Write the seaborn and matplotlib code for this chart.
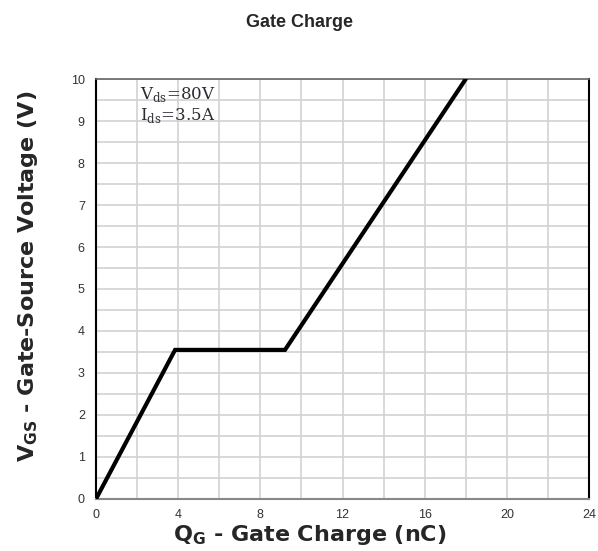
import matplotlib
matplotlib.use("Agg")
import matplotlib.pyplot as plt
import seaborn as sns
import pandas as pd
import numpy as np

# Data
qg_nc = [0.0, 3.85, 9.2, 18.0]
vgs_v = [0.0, 3.55, 3.55, 10.0]
x_ticks = [0, 4, 8, 12, 16, 20, 24]
y_ticks = [0, 1, 2, 3, 4, 5, 6, 7, 8, 9, 10]

sns.set_theme(style="white")
plt.rcParams['font.family'] = ['Liberation Sans', 'DejaVu Sans']

df = pd.DataFrame({"QG": qg_nc, "VGS": vgs_v})

fig = plt.figure(figsize=(5.98, 5.51), dpi=100)
ax = fig.add_axes([0.1605, 0.0944, 0.8245, 0.7622])

sns.lineplot(data=df, x="QG", y="VGS", ax=ax, color="black", linewidth=3.0,
             solid_joinstyle="miter", zorder=3)

ax.set_xlim(0, 24)
ax.set_ylim(0, 10)
ax.set_xticks(x_ticks)
ax.set_yticks(y_ticks)
ax.set_xticks(np.arange(0, 24.1, 2), minor=True)
ax.set_yticks(np.arange(0, 10.1, 0.5), minor=True)
ax.grid(which="both", color="#d2d2d2", linewidth=1.2)
ax.set_axisbelow(True)
ax.tick_params(which="both", length=0)
ax.tick_params(axis="both", labelsize=9, colors="#333333")
ax.tick_params(axis="y", pad=8)
ax.tick_params(axis="x", pad=7)

for side in ["left", "right"]:
    ax.spines[side].set_color("black")
    ax.spines[side].set_linewidth(1.5)
ax.spines["top"].set_color("#666666")
ax.spines["top"].set_linewidth(1.2)
ax.spines["bottom"].set_color("#888888")
ax.spines["bottom"].set_linewidth(1.5)

label_font = dict(fontsize=16, fontweight="bold", family=["DejaVu Sans"])
ax.set_xlabel(r"Q$_\mathregular{G}$ - Gate Charge (nC)", labelpad=2, **label_font)
ax.set_ylabel(r"V$_\mathregular{GS}$ - Gate-Source Voltage (V)", labelpad=22,
              **label_font)
ax.xaxis.label.set_x(0.434)
ax.yaxis.label.set_y(0.53)
fig.suptitle("Gate Charge", fontsize=13, fontweight="bold", x=0.5, y=0.975)

serif = ["DejaVu Serif"]
ax.text(2.14, 9.86, r"V$_\mathregular{ds}$=80V", fontsize=12, family=serif,
        va="top", ha="left", color="#2a2a33")
ax.text(2.14, 9.36, r"I$_\mathregular{ds}$=3.5A", fontsize=12, family=serif,
        va="top", ha="left", color="#2a2a33")

fig.savefig("out.png", dpi=100, facecolor="white")
